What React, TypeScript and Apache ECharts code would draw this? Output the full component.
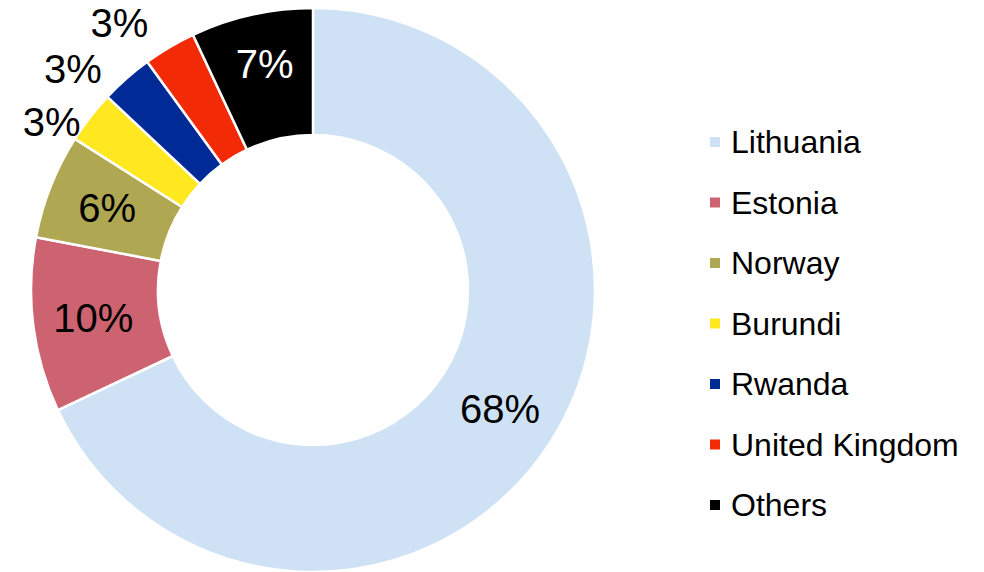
import React, { useEffect, useRef } from "react";
import * as echarts from "echarts";

const countries = ["Lithuania", "Estonia", "Norway", "Burundi", "Rwanda", "United Kingdom", "Others"];
const shares = [68, 10, 6, 3, 3, 3, 7];
const colors = ["#CFE2F5", "#CD6370", "#B0A752", "#FFE81F", "#002A96", "#F22A05", "#000000"];
const labelColors = ["#000", "#000", "#000", "#000", "#000", "#000", "#fff"];
// outside-label placement for the thin slices: [line length, line length2]
const outsideLabels: Record<string, [number, number]> = {
  Burundi: [-8, 11],
  Rwanda: [13, 11],
  "United Kingdom": [28, 2],
};
// labels lifted a little inside their slice (blank line of this height below)
const labelLift: Record<string, number> = { Others: 20 };

const FONT = "'Liberation Sans', Arial, Helvetica, sans-serif";

export default function App() {
  const ref = useRef<HTMLDivElement>(null);
  useEffect(() => {
    if (!ref.current) return;
    const chart = echarts.init(ref.current, null, { renderer: "svg" });
    const data = countries.map((name, i) => {
      const out = outsideLabels[name];
      const lift = labelLift[name];
      const item: any = {
        name,
        value: shares[i],
        itemStyle: { color: colors[i] },
        label: {
          position: out ? "outside" : "inside",
          color: out ? "#000" : labelColors[i],
        },
      };
      if (lift) {
        item.label.formatter = "{v|{c}%}\n{gap|}";
        item.label.rich = {
          v: { fontSize: 40, lineHeight: 40, fontFamily: FONT, color: labelColors[i] },
          gap: { fontSize: 1, lineHeight: lift },
        };
      }
      if (out) {
        item.labelLine = { show: false, length: out[0], length2: out[1] };
      }
      return item;
    });
    chart.setOption({
      animation: false,
      backgroundColor: "#fff",
      textStyle: { fontFamily: FONT },
      legend: {
        orient: "vertical",
        left: 708,
        top: 126,
        padding: 0,
        icon: "rect",
        itemWidth: 12,
        itemHeight: 12,
        itemGap: 28.5,
        data: countries,
        textStyle: {
          fontFamily: FONT,
          fontSize: 32,
          lineHeight: 32,
          color: "#000",
          padding: [0, 0, 0, 5],
        },
      },
      series: [
        {
          type: "pie",
          center: [313, 290],
          radius: [155, 282],
          startAngle: 90,
          clockwise: true,
          avoidLabelOverlap: false,
          labelLayout: { hideOverlap: false },
          itemStyle: { borderColor: "#fff", borderWidth: 2.5 },
          label: {
            show: true,
            formatter: "{c}%",
            fontFamily: FONT,
            fontSize: 40,
            distanceToLabelLine: 5,
          },
          emphasis: { disabled: true },
          data,
        },
      ],
    });
    return () => chart.dispose();
  }, []);
  return (
    <div
      ref={ref}
      style={{ position: "fixed", left: 0, top: 0, width: 984, height: 572 }}
    />
  );
}
